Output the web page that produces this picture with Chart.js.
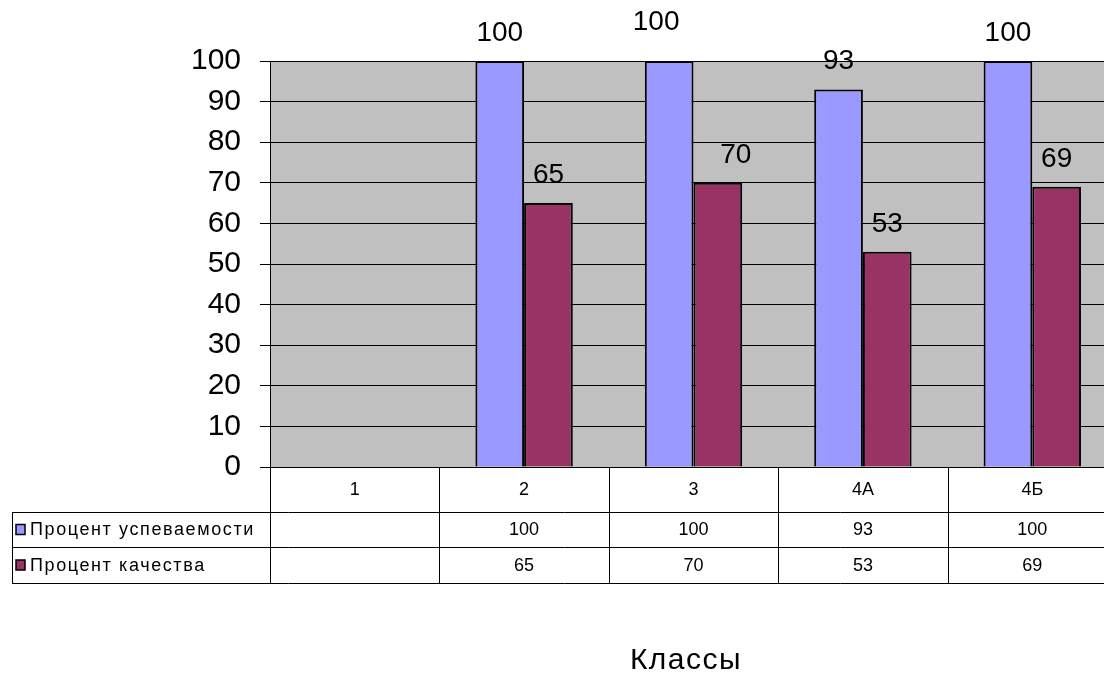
<!DOCTYPE html>
<html>
<head>
<meta charset="utf-8">
<script src="https://cdn.jsdelivr.net/npm/chart.js@4.4.1/dist/chart.umd.min.js"></script>
<style>
  html, body { margin: 0; padding: 0; background: #fff; overflow: hidden; }
  #wrap { width: 1104px; height: 675px; overflow: hidden; }
</style>
</head>
<body>
<div id="wrap"><canvas id="c" width="1125" height="675"></canvas></div>
<script>
var classes = ["1", "2", "3", "4А", "4Б"];
var seriesNames = ["Процент успеваемости", "Процент качества"];
var progress = [null, 100, 100, 93, 100];
var quality = [null, 65, 70, 53, 69];
var yTicks = [0, 10, 20, 30, 40, 50, 60, 70, 80, 90, 100];

var FONT = "'Liberation Sans', Arial, sans-serif";
var colors = ["#9999ff", "#993366"];

// excel had the labels of class 3 dragged a bit
function labelNudge(ds, idx) {
  if (idx !== 2) return { x: 0, y: 0 };
  return ds === 0 ? { x: -13, y: -11 } : { x: 18, y: 0 };
}

var tablePlugin = {
  id: "tablePlugin",
  beforeDraw: function (chart) {
    var a = chart.chartArea, ctx = chart.ctx;
    ctx.save();
    ctx.fillStyle = "#c0c0c0";
    ctx.fillRect(a.left, a.top, a.right - a.left, a.bottom - a.top);
    ctx.restore();
  },
  afterDraw: function (chart) {
    var ctx = chart.ctx, a = chart.chartArea, xs = chart.scales.x;
    var rowTops = [a.bottom, a.bottom + 45, a.bottom + 80, a.bottom + 116];
    var legendLeft = 12;
    ctx.save();
    ctx.strokeStyle = "#000";
    ctx.lineWidth = 1;

    // horizontal lines
    ctx.beginPath();
    ctx.moveTo(a.left, rowTops[0] + 0.5); ctx.lineTo(a.right, rowTops[0] + 0.5);
    for (var r = 1; r < rowTops.length; r++) {
      ctx.moveTo(legendLeft, rowTops[r] + 0.5); ctx.lineTo(a.right, rowTops[r] + 0.5);
    }
    // vertical lines at category boundaries
    var step = (a.right - a.left) / classes.length;
    for (var i = 0; i <= classes.length; i++) {
      var vx = Math.round(a.left + step * i) + 0.5;
      ctx.moveTo(vx, rowTops[0]); ctx.lineTo(vx, rowTops[3]);
    }
    ctx.moveTo(legendLeft + 0.5, rowTops[1]); ctx.lineTo(legendLeft + 0.5, rowTops[3]);
    ctx.stroke();

    ctx.fillStyle = "#000";
    ctx.font = "18px " + FONT;
    ctx.textAlign = "center";
    ctx.textBaseline = "middle";
    classes.forEach(function (c, j) {
      var cx = xs.getPixelForValue(j);
      ctx.fillText(c, cx, (rowTops[0] + rowTops[1]) / 2 + 1);
      [progress, quality].forEach(function (arr, k) {
        if (arr[j] !== null) ctx.fillText(String(arr[j]), cx, (rowTops[k + 1] + rowTops[k + 2]) / 2 + 1);
      });
    });

    // legend keys + series names
    ctx.textAlign = "left";
    ctx.letterSpacing = "1.6px";
    seriesNames.forEach(function (name, k) {
      var cy = (rowTops[k + 1] + rowTops[k + 2]) / 2;
      ctx.fillStyle = colors[k];
      ctx.fillRect(16, cy - 5, 9, 10);
      ctx.strokeStyle = "#000";
      ctx.lineWidth = 1.5;
      ctx.strokeRect(16, cy - 5, 9, 10);
      ctx.fillStyle = "#000";
      ctx.fillText(name, 30, cy + 1);
    });
    ctx.letterSpacing = "0px";

    // value labels above bars
    ctx.font = "28px " + FONT;
    ctx.textAlign = "center";
    ctx.textBaseline = "middle";
    chart.data.datasets.forEach(function (ds, k) {
      chart.getDatasetMeta(k).data.forEach(function (bar, j) {
        if (ds.data[j] === null) return;
        var n = labelNudge(k, j);
        ctx.fillText(String(ds.data[j]), bar.x + n.x, bar.y - 28 + n.y);
      });
    });

    // axis title
    ctx.font = "30px " + FONT;
    ctx.letterSpacing = "1.5px";
    ctx.fillText("Классы", 686, 661);
    ctx.restore();
  }
};

new Chart(document.getElementById("c"), {
  type: "bar",
  data: {
    labels: classes,
    datasets: [
      { label: seriesNames[0], data: progress, backgroundColor: colors[0], borderColor: "#000", borderWidth: 2, borderSkipped: "bottom" },
      { label: seriesNames[1], data: quality, backgroundColor: colors[1], borderColor: "#000", borderWidth: 2, borderSkipped: "bottom" }
    ]
  },
  options: {
    responsive: false,
    animation: false,
    events: [],
    layout: { padding: { top: 61, right: 8, bottom: 208, left: 0 } },
    datasets: { bar: { categoryPercentage: 0.575, barPercentage: 1.0 } },
    plugins: { legend: { display: false }, title: { display: false }, tooltip: { enabled: false } },
    scales: {
      x: { display: false, grid: { display: false } },
      y: {
        min: 0, max: 100,
        afterFit: function (s) { s.width = 270; },
        afterBuildTicks: function (s) { s.ticks = yTicks.map(function (v) { return { value: v }; }); },
        ticks: { color: "#000", font: { family: FONT, size: 30 }, padding: 19 },
        grid: { color: "#000", lineWidth: 1, tickLength: 10, drawOnChartArea: true },
        border: { color: "#000", width: 1 }
      }
    }
  },
  plugins: [tablePlugin]
});
</script>
</body>
</html>
